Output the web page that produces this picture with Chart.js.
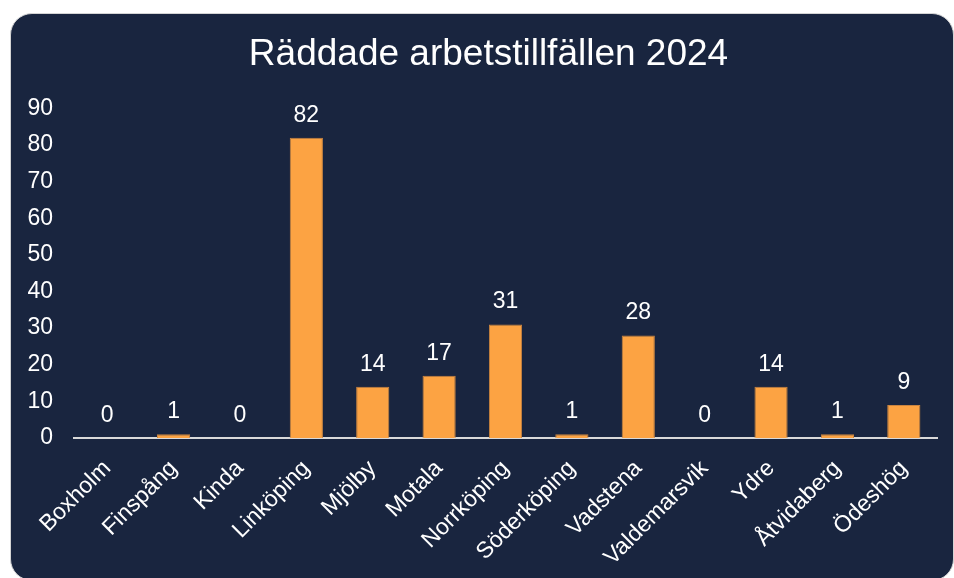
<!DOCTYPE html>
<html>
<head>
<meta charset="utf-8">
<script src="https://cdn.jsdelivr.net/npm/chart.js@4"></script>
<style>
  html, body { margin: 0; padding: 0; background: #ffffff; width: 954px; height: 578px; overflow: hidden; }
  #card {
    position: absolute; left: 10px; top: 13px; width: 944px; height: 568px;
    background: #19253f; border: 1px solid #d4d4d4; border-radius: 22px; overflow: hidden;
    box-sizing: border-box;
  }
  #wrap { position: absolute; left: -1px; top: -1px; width: 957px; height: 565px; }
</style>
</head>
<body>
<div id="card"><div id="wrap"><canvas id="c" width="957" height="565"></canvas></div></div>
<script>
const titleText = 'Räddade arbetstillfällen 2024';
const categories = ['Boxholm', 'Finspång', 'Kinda', 'Linköping', 'Mjölby', 'Motala', 'Norrköping', 'Söderköping', 'Vadstena', 'Valdemarsvik', 'Ydre', 'Åtvidaberg', 'Ödeshög'];
const values = [0, 1, 0, 82, 14, 17, 31, 1, 28, 0, 14, 1, 9];
const yMin = 0;
const yMax = 90;
const yStep = 10;

const FONT = "'Liberation Sans', Arial, sans-serif";

const valueLabels = {
  id: 'valueLabels',
  afterDatasetsDraw(chart) {
    const ctx = chart.ctx;
    const meta = chart.getDatasetMeta(0);
    ctx.save();
    ctx.font = '23px ' + FONT;
    ctx.fillStyle = '#ffffff';
    ctx.textAlign = 'center';
    ctx.textBaseline = 'alphabetic';
    meta.data.forEach((bar, i) => {
      ctx.fillText(String(chart.data.datasets[0].data[i]), bar.x, bar.y - 16);
    });
    ctx.restore();
  }
};

new Chart(document.getElementById('c'), {
  type: 'bar',
  data: {
    labels: categories,
    datasets: [{
      data: values,
      backgroundColor: '#fca343',
      borderColor: '#c98440',
      borderWidth: 1,
      barPercentage: 0.5,
      categoryPercentage: 1.0
    }]
  },
  options: {
    responsive: false,
    animation: false,
    devicePixelRatio: 1,
    layout: { padding: 0 },
    plugins: {
      legend: { display: false },
      tooltip: { enabled: false },
      title: {
        display: true,
        text: titleText,
        color: '#ffffff',
        font: { family: FONT, size: 37, weight: 'normal', lineHeight: 1.2 },
        padding: { top: 20, bottom: 31 }
      }
    },
    scales: {
      x: {
        grid: { display: false, drawTicks: false },
        border: { display: true, color: '#d9d9d9', width: 2 },
        ticks: {
          color: '#ffffff',
          font: { family: FONT, size: 23 },
          minRotation: 45, maxRotation: 45,
          autoSkip: false,
          padding: 17
        },
        afterFit(scale) { scale.height = 140; }
      },
      y: {
        position: 'left',
        min: yMin, max: yMax,
        grid: { display: false, drawTicks: false },
        border: { display: false },
        ticks: {
          stepSize: yStep,
          color: '#ffffff',
          font: { family: FONT, size: 23 },
          padding: 21
        },
        afterFit(scale) { scale.width = 64; }
      },
      yRight: {
        position: 'right',
        display: true,
        min: yMin, max: yMax,
        grid: { display: false, drawTicks: false },
        border: { display: false },
        ticks: { display: false },
        afterFit(scale) { scale.width = 30; }
      }
    }
  },
  plugins: [valueLabels]
});
</script>
</body>
</html>
